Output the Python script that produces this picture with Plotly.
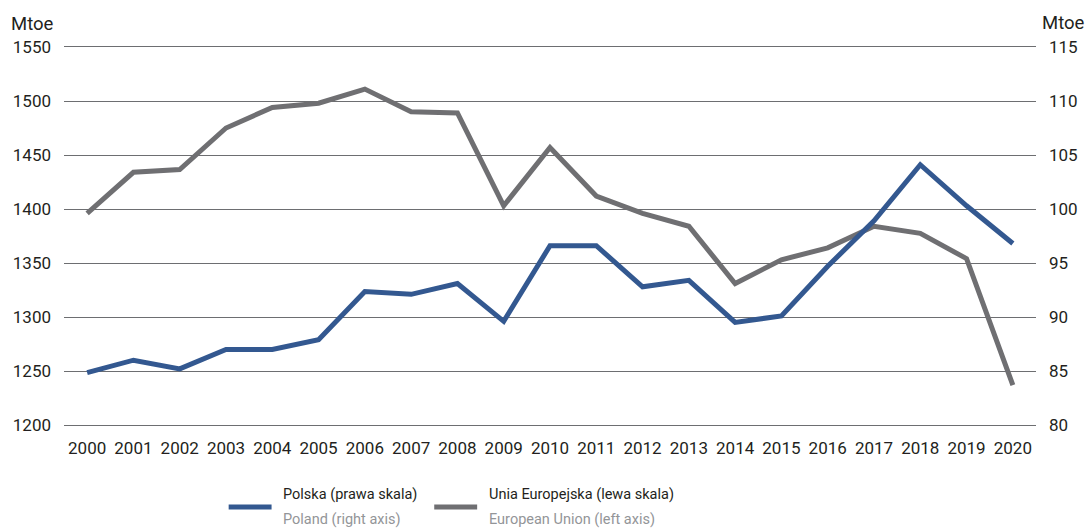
import plotly.graph_objects as go

years = list(range(2000, 2021))
eu_values = [1396, 1434, 1436.5, 1475, 1494, 1498, 1511, 1490, 1489, 1403, 1457,
             1412, 1396, 1384, 1331, 1353, 1364, 1384, 1377.5, 1354, 1237]
pl_values = [84.85, 86.0, 85.2, 87.0, 87.0, 87.9, 92.35, 92.1, 93.1, 89.6, 96.6,
             96.6, 92.8, 93.4, 89.5, 90.1, 94.7, 98.9, 104.1, 100.3, 96.8]
left_ticks = [1200, 1250, 1300, 1350, 1400, 1450, 1500, 1550]
right_ticks = [80, 85, 90, 95, 100, 105, 110, 115]
unit_label = "Mtoe"
pl_name = ["Polska (prawa skala)", "Poland (right axis)"]
eu_name = ["Unia Europejska (lewa skala)", "European Union (left axis)"]

BLUE = "#335890"
GRAY = "#6f6f72"
GRID = "#6d6e71"
TEXT = "#231f20"
SUB = "#939598"
FONT = "Roboto"

W, H = 1090, 529
ML, MR, MT, MB = 64, 52, 47, 104

fig = go.Figure()
fig.add_trace(go.Scatter(x=years, y=eu_values, mode="lines", name=eu_name[0],
                         line=dict(color=GRAY, width=5), yaxis="y"))
fig.add_trace(go.Scatter(x=years, y=pl_values, mode="lines", name=pl_name[0],
                         line=dict(color=BLUE, width=5), yaxis="y2"))

fig.update_layout(
    width=W, height=H,
    margin=dict(l=ML, r=MR, t=MT, b=MB),
    plot_bgcolor="white", paper_bgcolor="white",
    showlegend=False,
    font=dict(family=FONT, size=17, color=TEXT),
    xaxis=dict(range=[1999.5, 2020.5], tickmode="array", tickvals=years,
               ticktext=[str(y) for y in years], showgrid=False, zeroline=False,
               showline=True, mirror=True, linecolor=GRID, linewidth=1,
               ticks="", tickfont=dict(size=17, color=TEXT),
               ticklabelstandoff=8),
    yaxis=dict(range=[1200, 1550], tickmode="array", tickvals=left_ticks,
               showgrid=True, gridcolor=GRID, gridwidth=1, zeroline=False,
               showline=False, ticks="", tickfont=dict(size=17, color=TEXT),
               ticklabelstandoff=12),
    yaxis2=dict(range=[80, 115], tickmode="array", tickvals=right_ticks,
                overlaying="y", side="right", showgrid=False, zeroline=False,
                showline=False, ticks="", tickfont=dict(size=17, color=TEXT),
                ticklabelstandoff=12),
)

pw = W - ML - MR
ph = H - MT - MB
def px(x):
    return (x - ML) / pw
def py(y):
    return (H - MB - y) / ph

# axis unit labels
fig.add_annotation(x=px(9), y=py(24), xref="paper", yref="paper", text=unit_label,
                   showarrow=False, xanchor="left", yanchor="middle",
                   font=dict(size=18.5, color=TEXT))
fig.add_annotation(x=px(1089), y=py(23), xref="paper", yref="paper", text=unit_label,
                   showarrow=False, xanchor="right", yanchor="middle",
                   font=dict(size=18.5, color=TEXT))

# manual legend
items = [(229, 272, 281, BLUE, pl_name), (435, 478, 488, GRAY, eu_name)]
for x0, x1, tx, col, names in items:
    fig.add_shape(type="line", xref="paper", yref="paper",
                  x0=px(x0), x1=px(x1), y0=py(507), y1=py(507),
                  line=dict(color=col, width=5), layer="above")
    fig.add_annotation(x=px(tx), y=py(494), xref="paper", yref="paper",
                       text=names[0], showarrow=False, xanchor="left", yanchor="middle",
                       font=dict(size=14.5, color=TEXT))
    fig.add_annotation(x=px(tx), y=py(519), xref="paper", yref="paper",
                       text=names[1], showarrow=False, xanchor="left", yanchor="middle",
                       font=dict(size=14.5, color=SUB))

fig.write_html("out.html", config={"displayModeBar": False},
               post_script="document.body.style.margin='0';document.body.style.overflow='hidden';")
